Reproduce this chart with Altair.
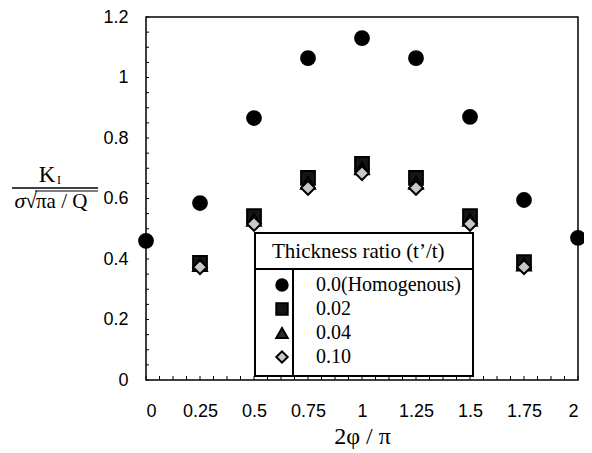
import altair as alt
import pandas as pd

# ---- data ----
series = ["0.0(Homogenous)", "0.02", "0.04", "0.10"]
x_all = [0, 0.25, 0.5, 0.75, 1.0, 1.25, 1.5, 1.75, 2.0]
k_homog = [0.46, 0.585, 0.866, 1.064, 1.13, 1.064, 0.87, 0.595, 0.47]
x_thin = [0.25, 0.5, 0.75, 1.0, 1.25, 1.5, 1.75]
k_002 = [0.387, 0.542, 0.668, 0.714, 0.668, 0.542, 0.39]
k_004 = [0.38, 0.53, 0.652, 0.70, 0.652, 0.53, 0.382]
k_010 = [0.373, 0.516, 0.635, 0.684, 0.635, 0.516, 0.373]

x_ticks = [0, 0.25, 0.5, 0.75, 1.0, 1.25, 1.5, 1.75, 2.0]
y_ticks = [0, 0.2, 0.4, 0.6, 0.8, 1.0, 1.2]
x_minor = [i * 0.0625 for i in range(33)]
y_minor = [i * 0.05 for i in range(25)]

shapes = ["circle", "square", "triangle-up", "diamond"]
fills = ["#000000", "#151515", "#2a2a2a", "#c8c8c8"]

rows = []
for name, ks in [("0.02", k_002), ("0.04", k_004), ("0.10", k_010)]:
    for x, k in zip(x_thin, ks):
        rows.append({"x": x, "k": k, "series": name})
for x, k in zip(x_all, k_homog):
    rows.append({"x": x, "k": k, "series": series[0]})
df = pd.DataFrame(rows)

W, H = 432, 363
xs = alt.Scale(domain=[0, 2], nice=False)
ys = alt.Scale(domain=[0, 1.2], nice=False)

x_axis = alt.Axis(
    values=x_ticks, labelExpr="'' + datum.value", title="2\u03c6 / \u03c0",
    titleFont="Liberation Serif", titleFontSize=24, titleFontWeight="normal",
    titleColor="black", titleBaseline="alphabetic", titleY=63, labelPadding=22)
y_axis = alt.Axis(values=y_ticks, labelExpr="'' + datum.value", title="", labelPadding=18)

leg = alt.Legend(
    title="Thickness ratio (t\u2019/t)", orient="none", legendX=126, legendY=224,
    titleFont="Liberation Serif", titleFontSize=21, titleFontWeight="normal",
    titleColor="black", titlePadding=13, labelFont="Liberation Serif",
    labelFontSize=20, labelColor="black", labelOffset=24, rowPadding=4,
    symbolSize=130, symbolStrokeWidth=2, padding=0,
)

points = alt.Chart(df).mark_point(filled=True, strokeWidth=2, opacity=1, size=190).encode(
    x=alt.X("x:Q", scale=xs, axis=x_axis),
    y=alt.Y("k:Q", scale=ys, axis=y_axis),
    shape=alt.Shape("series:N", scale=alt.Scale(domain=series, range=shapes), legend=leg),
    fill=alt.Fill("series:N", scale=alt.Scale(domain=series, range=fills), legend=leg),
    stroke=alt.Stroke("series:N", scale=alt.Scale(domain=series, range=["#000000"] * 4), legend=leg),
)

xt = alt.Chart(pd.DataFrame({"x": x_minor})).mark_rule(color="black", strokeWidth=1).encode(
    x=alt.X("x:Q", scale=xs, axis=x_axis), y=alt.value(H - 4), y2=alt.value(H))
yt = alt.Chart(pd.DataFrame({"k": y_minor})).mark_rule(color="black", strokeWidth=1).encode(
    y=alt.Y("k:Q", scale=ys, axis=y_axis), x=alt.value(0), x2=alt.value(3))

one = pd.DataFrame({"a": [0]})
box = alt.Chart(one).mark_rect(fill="white", stroke="black", strokeWidth=2).encode(
    x=alt.value(109), x2=alt.value(327), y=alt.value(216), y2=alt.value(359))
hline = alt.Chart(one).mark_rule(color="black", strokeWidth=2).encode(
    x=alt.value(109), x2=alt.value(327), y=alt.value(252))
vline = alt.Chart(one).mark_rule(color="black", strokeWidth=2).encode(
    x=alt.value(147), y=alt.value(252), y2=alt.value(359))

serif = "Liberation Serif"
t_k = alt.Chart(one).mark_text(text="K", font=serif, fontSize=23, align="center",
                               baseline="alphabetic", color="black").encode(
    x=alt.value(-99), y=alt.value(165))
t_i = alt.Chart(one).mark_text(text="I", font=serif, fontSize=12, align="left",
                               baseline="alphabetic", color="black").encode(
    x=alt.value(-89), y=alt.value(167))
frac = alt.Chart(one).mark_rule(color="black", strokeWidth=1.5).encode(
    x=alt.value(-134), x2=alt.value(-48), y=alt.value(171))
t_sig = alt.Chart(one).mark_text(text="\u03c3", font=serif, fontSize=22, fontStyle="italic",
                                 align="center", baseline="alphabetic", color="black").encode(
    x=alt.value(-126), y=alt.value(191))
t_rad = alt.Chart(one).mark_text(text="\u221a", font=serif, fontSize=22, align="center",
                                 baseline="alphabetic", color="black").encode(
    x=alt.value(-115), y=alt.value(191))
t_den = alt.Chart(one).mark_text(text="\u03c0a / Q", font=serif, fontSize=21, align="left",
                                 baseline="alphabetic", color="black").encode(
    x=alt.value(-110), y=alt.value(191))
over = alt.Chart(one).mark_rule(color="black", strokeWidth=1.2).encode(
    x=alt.value(-111), x2=alt.value(-48), y=alt.value(174))

chart = alt.layer(points, xt, yt, box, hline, vline, t_k, t_i, frac, t_sig, t_rad, t_den, over).properties(
    width=W, height=H, autosize="none",
    padding={"left": 138, "top": 9, "right": 6, "bottom": 72},
).configure_view(stroke="black", strokeWidth=1.5).configure_axis(
    domain=False, ticks=False, grid=False, labelFont="Liberation Sans",
    labelFontSize=18, labelColor="black",
)

chart.save("out.html", embed_options={"renderer": "svg", "actions": False})
